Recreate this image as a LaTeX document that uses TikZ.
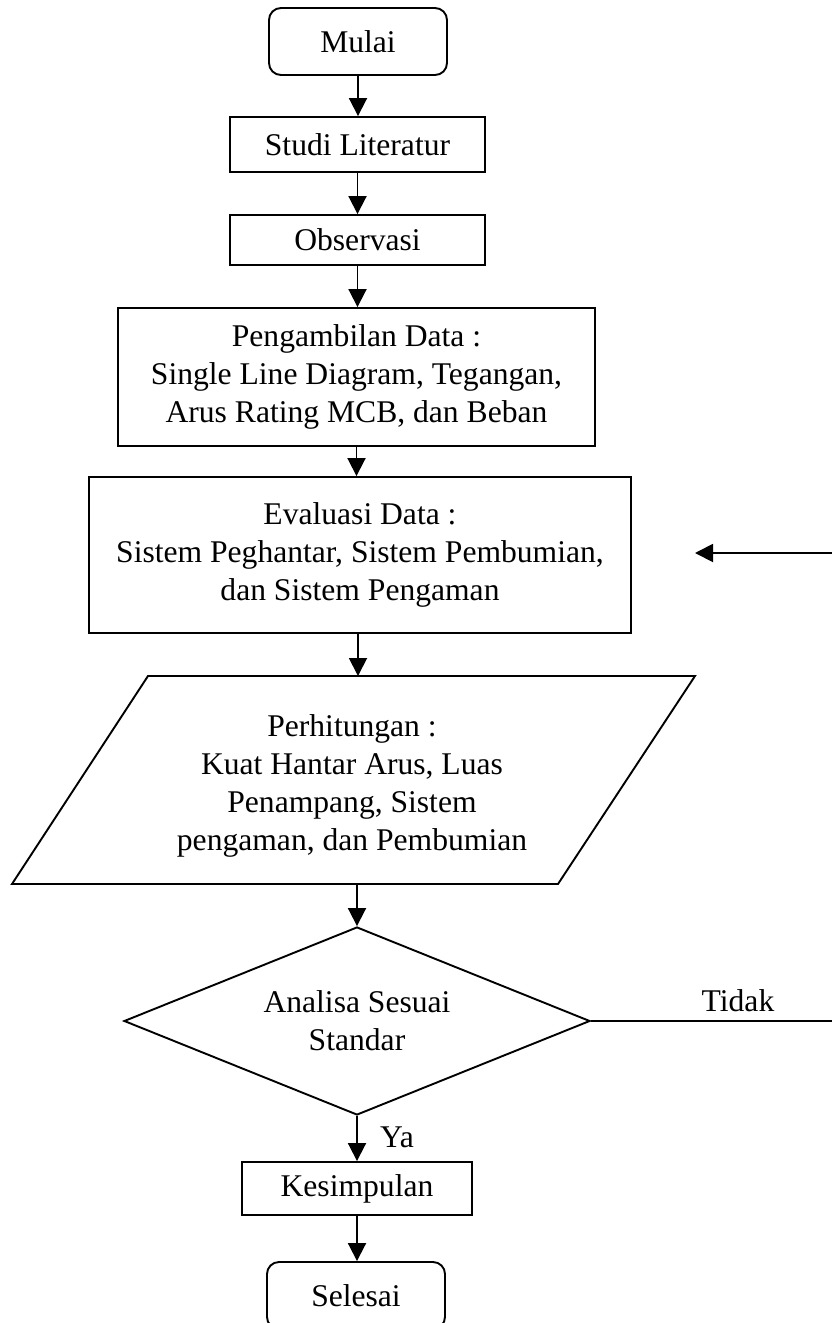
\documentclass[tikz,border=0pt]{standalone}
\usepackage{fontspec}
\setmainfont{Liberation Serif}
\usetikzlibrary{shapes.geometric,arrows.meta}
\begin{document}
\begin{tikzpicture}[x=0.5pt,y=-0.5pt,
  every node/.style={font=\fontsize{15.8}{19}\selectfont, align=center, inner sep=0pt},
  proc/.style={draw, line width=0.95pt},
  term/.style={draw, line width=0.95pt, rounded corners=6pt, minimum width=89pt, minimum height=33.5pt},
  decision/.style={draw, line width=0.95pt, diamond, shape aspect=2.48, minimum width=233pt, minimum height=94pt},
  arr/.style={line width=0.95pt, -{Triangle[width=9pt,length=9pt]}},
  conn/.style={line width=0.95pt}]
\useasboundingbox (0,0) rectangle (831,1323);
\node[term] (mulai) at (358,41.5) {Mulai};
\node[proc, minimum width=127.5pt, minimum height=27.5pt] (studi) at (357.5,144.5) {Studi Literatur};
\node[proc, minimum width=127.5pt, minimum height=25pt] (obs) at (357.5,240) {Observasi};
\node[proc, minimum width=238.5pt, minimum height=69pt] (ambil) at (356.5,377) {Pengambilan Data :\\Single Line Diagram, Tegangan,\\Arus Rating MCB, dan Beban};
\node[proc, minimum width=271pt, minimum height=78pt] (eval) at (360,555) {Evaluasi Data :\\Sistem Peghantar, Sistem Pembumian,\\dan Sistem Pengaman};
\coordinate (p1) at (148,676);
\coordinate (p2) at (695,676);
\coordinate (p3) at (558,884);
\coordinate (p4) at (12,884);
\draw[conn] (p1) -- (p2) -- (p3) -- (p4) -- cycle;
\node (hitung) at (352,786) {Perhitungan :\\Kuat Hantar Arus, Luas\\Penampang, Sistem\\pengaman, dan Pembumian};
\node[decision] (dec) at (357,1021) {Analisa Sesuai\\Standar};
\node[proc, minimum width=115pt, minimum height=26.5pt] (kes) at (357,1188.5) {Kesimpulan};
\node[term] (sel) at (356,1295.5) {Selesai};
\coordinate (hitTop) at (358,676);
\coordinate (hitBot) at (357,884);
\coordinate (fbA) at (850,1021);
\coordinate (fbB) at (850,553);
\coordinate (fbC) at (695,553);
\draw[arr] (mulai.south) -- (mulai.south |- studi.north);
\draw[arr] (studi.south) -- (studi.south |- obs.north);
\draw[arr] (obs.south) -- (obs.south |- ambil.north);
\draw[arr] (ambil.south) -- (ambil.south |- eval.north);
\draw[arr] (eval.south -| hitTop) -- (hitTop);
\draw[arr] (hitBot) -- (dec.north);
\draw[arr] (dec.south) -- (dec.south |- kes.north);
\draw[arr] (kes.south) -- (kes.south |- sel.north);
\draw[conn] (dec.east) -- (fbA) -- (fbB);
\draw[arr] (fbB) -- (fbC);
\node (ya) at (397,1137) {Ya};
\node (tidak) at (738,1001) {Tidak};
\end{tikzpicture}
\end{document}
